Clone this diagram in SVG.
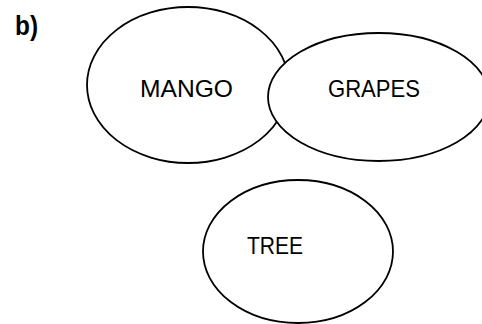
<svg xmlns="http://www.w3.org/2000/svg" width="482" height="324" viewBox="0 0 482 324">
<style>
.node{fill:#fff;stroke:#000;stroke-width:1.8}
.lbl{font-family:"Liberation Sans",Arial,sans-serif;font-size:24.5px;fill:#000}
.title{font-family:"Liberation Sans",Arial,sans-serif;font-size:27px;font-weight:bold;fill:#000}
</style>
<rect width="482" height="324" fill="#fff"/>
<text class="title" x="15" y="35" textLength="23" lengthAdjust="spacingAndGlyphs">b)</text>
<g id="connectors"></g>
<g id="mango">
<ellipse class="node" cx="188" cy="85" rx="101" ry="78"/>
<text class="lbl" x="140" y="97" textLength="93" lengthAdjust="spacingAndGlyphs">MANGO</text>
</g>
<g id="grapes">
<ellipse class="node" cx="378.6" cy="97" rx="110.6" ry="64"/>
<text class="lbl" x="328" y="97" textLength="92" lengthAdjust="spacingAndGlyphs">GRAPES</text>
</g>
<g id="tree">
<ellipse class="node" cx="298" cy="251.5" rx="95" ry="71.5"/>
<text class="lbl" x="247" y="254" textLength="56" lengthAdjust="spacingAndGlyphs">TREE</text>
</g>
</svg>
